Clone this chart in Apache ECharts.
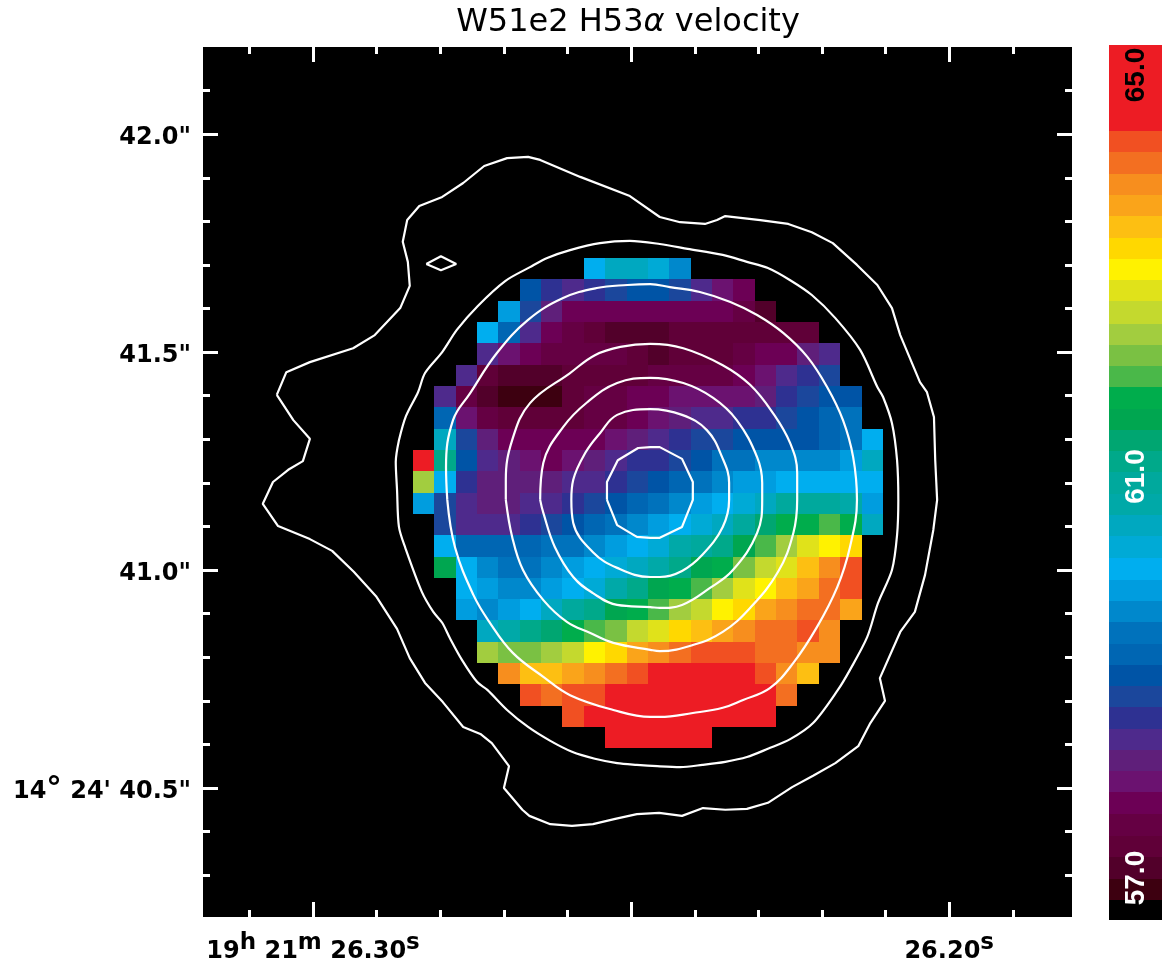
<!DOCTYPE html>
<html><head><meta charset="utf-8">
<style>html,body{margin:0;padding:0;background:#fff}#c{width:1170px;height:967px}</style>
<script src="https://cdn.jsdelivr.net/npm/echarts@6/dist/echarts.min.js"></script>
</head><body><div id="c"></div>
<script>
// ---- tick values ----
const raMajor = [26.30, 26.25, 26.20];
const raMinor = [26.31, 26.29, 26.28, 26.27, 26.26, 26.24, 26.23, 26.22, 26.21, 26.19];
const raLabelled = [26.30, 26.20];
const decMajor = [40.5, 41.0, 41.5, 42.0];
const decMinor = [40.3, 40.4, 40.6, 40.7, 40.8, 40.9, 41.1, 41.2, 41.3, 41.4, 41.6, 41.7, 41.8, 41.9, 42.1];
const cbarLabels = [57, 61, 65];

// ---- colour bins (velocity, km/s) and their colours ----
const binVelocity = [56.69,56.90,57.11,57.33,57.54,57.75,57.97,58.18,58.39,58.60,58.82,59.03,59.24,59.45,59.67,59.88,60.09,60.30,60.52,60.73,60.94,61.16,61.37,61.58,61.79,62.01,62.22,62.43,62.64,62.86,63.07,63.28,63.49,63.71,63.92,64.13,64.35,64.56,64.77,64.98,65.20];
const binColor = ['#000000','#3d0010','#52002a','#600038','#650043','#6c0055','#6b1270','#5f1f7a','#4e2a8c','#2e3192','#1b479c','#0054a6','#0066b3','#0072bc','#0088cc','#009ddf','#00aeef','#00aad6','#00a8c0','#00a9a8','#00a99d','#00a98a','#00a671','#00a650','#00ad4c','#4ab849','#7ac143','#a2cd3f','#c4d92e','#e0e21a','#fff200','#ffd800','#fdbf12','#faa41a','#f78e1e','#f36f21','#f15022','#ed1c24','#ed1c24','#ed1c24','#ed1c24'];

// ---- velocity map: first occupied column of each row, then colour-bin per cell, north to south ----
const rowStart = [8,5,4,3,3,2,1,1,1,0,0,0,1,1,1,2,2,3,3,4,5,7,9];
const rowBins = [
 [16,18,18,17,14],
 [11,9,8,9,10,11,11,10,8,6,5],
 [15,10,7,5,5,5,5,5,5,5,5,4,2],
 [16,12,8,5,4,3,2,2,2,3,3,3,3,3,3,3],
 [8,6,5,4,4,4,4,3,2,3,3,3,4,5,5,7,8],
 [8,3,2,2,2,3,3,3,3,4,4,4,4,5,6,8,9,10],
 [8,4,2,1,1,1,3,4,4,5,5,6,6,6,6,7,9,10,11,11],
 [12,6,4,3,3,3,3,4,4,5,6,7,8,8,9,9,10,11,12,13],
 [18,10,7,5,5,5,5,5,6,7,8,9,10,10,11,11,11,11,12,13,16],
 [37,21,11,8,7,6,5,6,7,8,9,9,10,11,13,13,14,14,14,14,15,18],
 [27,16,9,7,7,7,7,8,8,9,10,11,12,13,14,15,15,16,16,16,16,16],
 [15,10,8,7,7,8,8,9,10,11,12,13,14,15,16,17,18,20,20,20,19,15],
 [10,8,8,8,9,10,11,12,13,14,15,16,17,18,20,22,24,24,25,24,18],
 [16,12,12,12,12,13,13,14,15,16,17,19,20,21,23,25,27,29,30,31],
 [23,16,14,13,13,14,15,16,17,18,19,21,23,24,26,28,29,32,34,36],
 [16,15,14,14,15,16,17,19,21,23,24,25,27,29,30,32,33,35,36],
 [15,14,15,16,18,20,21,23,24,25,27,28,30,31,33,34,35,35,33],
 [18,19,21,22,24,25,26,28,29,31,32,33,34,35,35,36,34],
 [27,26,26,27,28,30,31,33,34,35,36,36,36,35,35,34,34],
 [34,32,32,33,34,35,36,37,37,37,37,37,36,34,32],
 [36,35,36,36,37,37,37,37,37,37,37,37,35],
 [36,37,37,37,37,37,37,37,37,37],
 [37,37,37,37,37]
];

// ---- contours: RA seconds and Dec arcsec ----
const c1Ra = [26.3057,26.3042,26.3005,26.2937,26.2903,26.2863,26.2848,26.2851,26.2859,26.2852,26.2833,26.2797,26.2764,26.2731,26.2695,26.2662,26.2643,26.2580,26.2502,26.2455,26.2423,26.2384,26.2365,26.2352,26.2297,26.2253,26.2216,26.2183,26.2145,26.2113,26.2090,26.2077,26.2046,26.2035,26.2024,26.2022,26.2019,26.2025,26.2038,26.2054,26.2077,26.2109,26.2101,26.2124,26.2143,26.2179,26.2214,26.2247,26.2285,26.2318,26.2352,26.2387,26.2420,26.2456,26.2491,26.2525,26.2560,26.2593,26.2627,26.2660,26.2671,26.2700,26.2692,26.2719,26.2737,26.2764,26.2796,26.2824,26.2848,26.2868,26.2901,26.2936,26.2970,26.3005,26.3055,26.3079,26.3063,26.3039,26.3016,26.3005,26.3031];
const c1Dec = [41.402,41.454,41.477,41.509,41.539,41.601,41.652,41.707,41.753,41.803,41.835,41.856,41.888,41.927,41.945,41.948,41.941,41.902,41.858,41.810,41.798,41.794,41.803,41.812,41.803,41.794,41.775,41.750,41.700,41.654,41.601,41.539,41.431,41.408,41.351,41.252,41.161,41.092,40.989,40.904,40.858,40.752,40.700,40.649,40.596,40.557,40.528,40.502,40.466,40.452,40.450,40.454,40.436,40.443,40.440,40.429,40.417,40.413,40.417,40.436,40.450,40.500,40.550,40.603,40.624,40.640,40.697,40.741,40.798,40.865,40.940,40.996,41.044,41.071,41.101,41.152,41.202,41.230,41.250,41.301,41.344];
const islandRa = [26.2822,26.2799,26.2775,26.2799];
const islandDec = [41.702,41.720,41.702,41.688];
const c2Ra = [26.2865,26.2854,26.2835,26.2824,26.2797,26.2774,26.2741,26.2698,26.2659,26.2632,26.2596,26.2549,26.2502,26.2455,26.2411,26.2356,26.2318,26.2285,26.2250,26.2216,26.2179,26.2140,26.2113,26.2104,26.2090,26.2082,26.2080,26.2082,26.2090,26.2112,26.2129,26.2156,26.2175,26.2214,26.2250,26.2285,26.2318,26.2352,26.2388,26.2423,26.2459,26.2491,26.2522,26.2557,26.2593,26.2627,26.2662,26.2695,26.2726,26.2742,26.2766,26.2785,26.2797,26.2811,26.2829,26.2855,26.2865,26.2868,26.2870];
const c2Dec = [41.298,41.353,41.408,41.452,41.500,41.551,41.606,41.663,41.695,41.716,41.734,41.750,41.755,41.748,41.737,41.723,41.707,41.693,41.665,41.631,41.578,41.505,41.420,41.397,41.337,41.252,41.161,41.080,41.000,40.924,40.846,40.771,40.725,40.649,40.612,40.590,40.571,40.560,40.553,40.548,40.550,40.553,40.557,40.567,40.583,40.608,40.640,40.679,40.725,40.743,40.794,40.844,40.879,40.904,40.950,41.051,41.099,41.184,41.248];
const c3Ra = [26.2789,26.2791,26.2780,26.2753,26.2711,26.2662,26.2607,26.2554,26.2506,26.2470,26.2439,26.2392,26.2344,26.2302,26.2261,26.2223,26.2192,26.2167,26.2151,26.2145,26.2156,26.2176,26.2208,26.2245,26.2282,26.2324,26.2356,26.2403,26.2455,26.2470,26.2528,26.2596,26.2638,26.2686,26.2722,26.2748,26.2777];
const c3Dec = [41.161,41.236,41.344,41.406,41.498,41.574,41.624,41.647,41.654,41.656,41.649,41.638,41.615,41.585,41.544,41.489,41.420,41.344,41.259,41.161,41.053,40.961,40.869,40.787,40.729,40.702,40.684,40.672,40.663,40.663,40.679,40.713,40.755,40.810,40.879,40.943,41.053];
const c4Ra = [26.2697,26.2697,26.2687,26.2659,26.2596,26.2557,26.2517,26.2470,26.2418,26.2356,26.2313,26.2277,26.2250,26.2239,26.2239,26.2245,26.2269,26.2313,26.2356,26.2403,26.2455,26.2470,26.2528,26.2565,26.2601,26.2638,26.2670,26.2687];
const c4Dec = [41.161,41.207,41.298,41.383,41.452,41.493,41.512,41.519,41.509,41.470,41.425,41.360,41.291,41.223,41.161,41.085,40.996,40.913,40.858,40.828,40.814,40.817,40.833,40.856,40.881,40.931,41.000,41.076];
const c5Ra = [26.2643,26.2638,26.2607,26.2569,26.2522,26.2470,26.2418,26.2371,26.2334,26.2302,26.2294,26.2294,26.2302,26.2340,26.2376,26.2420,26.2455,26.2470,26.2522,26.2560,26.2591,26.2620,26.2638];
const c5Dec = [41.161,41.246,41.328,41.385,41.429,41.441,41.429,41.395,41.344,41.259,41.200,41.161,41.085,41.000,40.959,40.920,40.913,40.915,40.920,40.947,40.984,41.053,41.131];
const c6Ra = [26.2594,26.2591,26.2572,26.2549,26.2522,26.2470,26.2420,26.2381,26.2357,26.2346,26.2346,26.2356,26.2388,26.2420,26.2455,26.2470,26.2522,26.2560,26.2591];
const c6Dec = [41.161,41.207,41.269,41.314,41.356,41.369,41.356,41.321,41.259,41.200,41.161,41.099,41.035,40.998,40.984,40.984,41.005,41.041,41.108];
const c7Ra = [26.2538,26.2538,26.2521,26.2489,26.2470,26.2455,26.2420,26.2403,26.2403,26.2420,26.2455,26.2470,26.2491,26.2522];
const c7Dec = [41.161,41.202,41.252,41.280,41.282,41.282,41.255,41.202,41.161,41.099,41.074,41.074,41.076,41.103];

// ---- map geometry ----
const raFirstCell = 26.2843, raCellStep = 0.003358;
const decFirstCell = 41.7156, decCellStep = 0.0489;
const cellData = [];
rowBins.forEach((row, r) => row.forEach((b, i) => {
  cellData.push([rowStart[r] + i, r, b, binVelocity[b]]);
}));

const RA_MIN = 26.1807, RA_MAX = 26.3173, DEC_MIN = 40.204, DEC_MAX = 42.2;
const CB_MIN = 56.582, CB_MAX = 65.299, CB_HALF = 0.1063;
const labelFont = 'DejaVu Sans';

function xTicks(position, values, len, label) {
  return {type:'value', gridIndex:0, position, inverse:true, min:RA_MIN, max:RA_MAX, scale:true,
    axisLine:{show:false}, splitLine:{show:false},
    axisTick:{show:true, inside:true, length:len, customValues:values, lineStyle:{color:'#fff', width:3}},
    axisLabel: label || {show:false}};
}
function yTicks(position, values, len, label) {
  return {type:'value', gridIndex:0, position, min:DEC_MIN, max:DEC_MAX, scale:true,
    axisLine:{show:false}, splitLine:{show:false},
    axisTick:{show:true, inside:true, length:len, customValues:values, lineStyle:{color:'#fff', width:3}},
    axisLabel: label || {show:false}};
}
const supRich = {
  s:{fontFamily:labelFont, fontWeight:'bold', fontSize:23, color:'#000', padding:[0,0,16,0]},
  d:{fontFamily:labelFont, fontWeight:'bold', fontSize:31, color:'#000', padding:[0,0,4,0]}
};
const xLabel = {show:true, customValues:raLabelled, margin:15, fontFamily:labelFont, fontWeight:'bold', fontSize:24, color:'#000', rich:supRich,
  formatter:v => {
    const t = v.toFixed(2) + '{s|s}';
    return Math.abs(v - 26.30) < 1e-6 ? '19{s|h} 21{s|m} ' + t : t;
  }};
const yLabel = {show:true, customValues:decMajor, margin:12, padding:[8,0,0,0], fontFamily:labelFont, fontWeight:'bold', fontSize:24, color:'#000', rich:supRich,
  formatter:v => {
    const t = v.toFixed(1) + '"';
    return Math.abs(v - 40.5) < 1e-6 ? "14{d|°} 24' " + t : t;
  }};

function contour(ra, dec, smooth) {
  const pts = ra.map((x, i) => [x, dec[i]]);
  pts.push(pts[0]);
  return {type:'line', xAxisIndex:0, yAxisIndex:0, data:pts, showSymbol:false, symbol:'none', silent:true, z:5, clip:true,
    smooth:smooth || false, lineStyle:{color:'#fff', width:2.2}, animation:false};
}

const option = {
  animation:false,
  backgroundColor:'#fff',
  title:{text:'W51e2 H53{a|α} velocity', left:628, top:7, textAlign:'center', padding:0,
    textStyle:{fontFamily:labelFont, fontWeight:'normal', fontSize:32, color:'#000',
      rich:{a:{fontFamily:labelFont, fontStyle:'italic', fontSize:32, color:'#000'}}}},
  grid:[
    {left:203, top:47, width:869, height:870, show:true, backgroundColor:'#000', borderWidth:0},
    {left:1109, top:45, width:53, height:875, show:false}
  ],
  xAxis:[
    xTicks('bottom', raMajor, 15, xLabel),
    xTicks('bottom', raMinor, 7),
    xTicks('top', raMajor, 15),
    xTicks('top', raMinor, 7),
    {type:'value', gridIndex:1, min:0, max:1, show:false}
  ],
  yAxis:[
    yTicks('left', decMajor, 15, yLabel),
    yTicks('left', decMinor, 7),
    yTicks('right', decMajor, 15),
    yTicks('right', decMinor, 7),
    {type:'value', gridIndex:1, min:CB_MIN, max:CB_MAX, scale:true, position:'left',
      axisLine:{show:false}, axisTick:{show:false}, splitLine:{show:false}, z:10,
      axisLabel:{show:true, inside:true, customValues:cbarLabels, rotate:90, margin:27, align:'center', verticalAlign:'middle',
        fontFamily:'Liberation Sans', fontWeight:'bold', fontSize:28,
        formatter:v => '{' + (v === 65 ? 'k' : 'w') + '|' + v.toFixed(1) + '}',
        rich:{k:{color:'#000', fontFamily:'Liberation Sans', fontWeight:'bold', fontSize:28},
              w:{color:'#fff', fontFamily:'Liberation Sans', fontWeight:'bold', fontSize:28}}}}
  ],
  series:[
    {type:'custom', xAxisIndex:0, yAxisIndex:0, z:2, silent:true, clip:true,
      encode:{x:0, y:1}, data:cellData.map(d => [raFirstCell - d[0]*raCellStep, decFirstCell - d[1]*decCellStep, d[2], d[3]]),
      renderItem:(p, api) => {
        const a = api.coord([api.value(0), api.value(1)]);
        const b = api.coord([api.value(0) - raCellStep, api.value(1) - decCellStep]);
        const x = Math.round(a[0]), y = Math.round(a[1]);
        return {type:'rect', shape:{x, y, width:Math.round(b[0]) - x, height:Math.round(b[1]) - y},
          style:{fill:binColor[api.value(2)]}};
      }},
    contour(c1Ra, c1Dec), contour(islandRa, islandDec), contour(c2Ra, c2Dec, 0.3),
    contour(c3Ra, c3Dec, 0.4), contour(c4Ra, c4Dec, 0.4), contour(c5Ra, c5Dec, 0.4), contour(c6Ra, c6Dec, 0.4), contour(c7Ra, c7Dec),
    {type:'custom', xAxisIndex:4, yAxisIndex:4, z:2, silent:true, clip:true,
      encode:{y:0}, data:binVelocity.map((v, i) => [v, i]),
      renderItem:(p, api) => {
        const v = api.value(0);
        const a = api.coord([0, v + CB_HALF]), b = api.coord([1, v - CB_HALF]);
        const y = Math.round(a[1]);
        return {type:'rect', shape:{x:a[0], y, width:b[0]-a[0], height:Math.round(b[1]) - y + 1},
          style:{fill:binColor[api.value(1)]}};
      }}
  ]
};
echarts.init(document.getElementById('c'), null, {renderer:'canvas'}).setOption(option);
</script></body></html>
